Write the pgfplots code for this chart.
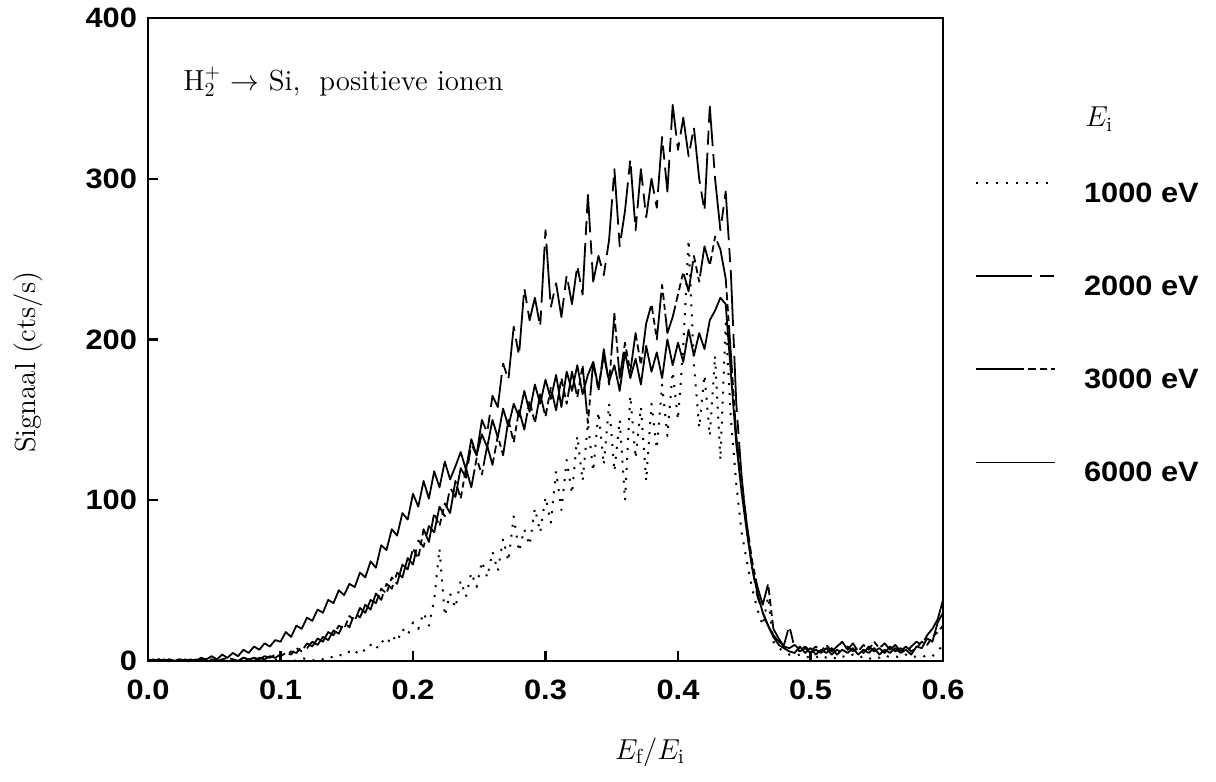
\documentclass[border=0pt]{standalone}
\usepackage{fontspec}
\usepackage{pgfplots}
\pgfplotsset{compat=1.18}
\usepackage{pgfplotstable}
\newfontfamily\tickfont{Liberation Sans}[FakeStretch=1.1]

\pgfplotstableread{
x a b c d
0.000 0 0 0 1
0.004 0 0 1 0
0.008 1 0 0 1
0.012 0 1 0 0
0.016 0 0 1 1
0.020 0 0 0 0
0.024 1 1 0 1
0.028 0 0 1 0
0.032 0 0 0 1
0.036 0 1 0 0
0.040 1 0 1 2
0.044 0 0 0 1
0.048 0 1 1 3
0.052 0 0 0 1
0.056 1 1 1 4
0.060 0 0 2 2
0.064 0 1 1 5
0.068 0 0 0 3
0.072 1 2 2 7
0.076 0 1 1 5
0.080 0 0 2 9
0.084 1 2 1 7
0.088 0 1 3 11
0.092 0 3 2 9
0.096 1 2 4 13
0.100 0 4 3 12
0.104 0 3 5 18
0.108 1 6 4 15
0.112 0 5 8 22
0.116 2 9 6 20
0.120 1 8 11 27
0.124 0 12 9 25
0.128 2 10 14 32
0.132 1 15 12 30
0.136 3 13 18 38
0.140 2 19 16 36
0.144 4 17 22 44
0.148 3 24 20 41
0.152 6 21 28 48
0.156 4 30 25 46
0.160 8 27 33 55
0.164 6 35 30 52
0.168 10 32 38 62
0.172 7 42 36 58
0.176 13 38 45 72
0.180 10 48 42 69
0.184 16 45 52 82
0.188 12 55 48 78
0.192 20 52 60 92
0.196 16 64 57 88
0.200 24 60 70 104
0.204 20 75 64 96
0.208 30 71 82 112
0.212 22 84 74 101
0.216 38 80 92 118
0.220 70 96 84 108
0.224 28 90 98 124
0.228 42 108 92 113
0.232 33 102 112 121
0.236 50 120 101 130
0.240 40 114 120 119
0.244 55 135 108 138
0.248 46 128 126 128
0.252 62 150 116 141
0.256 52 142 134 133
0.260 68 165 122 150
0.264 56 158 140 139
0.268 76 185 128 157
0.272 62 175 150 146
0.276 90 208 136 160
0.280 68 190 156 152
0.284 82 232 144 168
0.288 72 212 162 155
0.292 95 226 148 172
0.296 80 208 166 160
0.300 102 268 152 175
0.304 86 220 170 163
0.308 118 235 156 178
0.312 94 214 176 158
0.316 125 240 160 180
0.320 104 222 180 168
0.324 140 246 164 184
0.328 112 228 184 166
0.332 148 290 148 178
0.336 118 236 186 186
0.340 155 252 168 170
0.344 122 240 194 190
0.348 160 262 172 174
0.352 118 306 216 184
0.356 150 258 176 168
0.360 100 280 198 192
0.364 165 312 180 176
0.368 126 268 204 188
0.372 158 306 184 172
0.376 112 276 210 196
0.380 160 300 222 180
0.384 132 282 200 192
0.388 172 326 234 176
0.392 140 292 204 200
0.396 180 346 214 184
0.400 150 318 228 198
0.404 196 338 242 186
0.408 262 314 230 206
0.412 185 332 252 190
0.416 145 300 236 204
0.420 178 280 258 194
0.424 140 345 246 212
0.428 190 300 264 218
0.432 125 268 256 226
0.436 210 292 238 222
0.440 150 240 190 178
0.444 110 160 140 135
0.448 80 115 112 105
0.452 62 82 85 80
0.456 45 58 62 58
0.460 32 40 46 42
0.464 22 30 35 30
0.468 40 22 48 22
0.472 12 16 20 15
0.476 8 12 14 10
0.480 6 10 9 8
0.484 4 22 8 6
0.488 3 8 10 5
0.492 4 6 7 9
0.496 2 8 9 5
0.500 3 5 6 8
0.504 2 7 9 4
0.508 4 5 6 7
0.512 2 8 10 5
0.516 3 4 6 8
0.520 1 7 9 4
0.524 3 5 12 7
0.528 2 9 7 5
0.532 4 6 11 8
0.536 2 8 6 4
0.540 3 5 10 7
0.544 1 9 7 5
0.548 3 6 12 8
0.552 2 8 8 4
0.556 4 5 11 7
0.560 2 9 7 5
0.564 3 6 10 8
0.568 2 8 6 5
0.572 4 5 9 7
0.576 2 9 6 4
0.580 3 12 8 9
0.584 2 10 12 8
0.588 4 16 10 14
0.592 3 20 15 12
0.596 6 26 18 24
0.600 10 38 22 30
}\datatable

\begin{document}
\begin{tikzpicture}
\begin{axis}[
  name=ax, at={(0,0)}, anchor=south west,
  scale only axis,
  width=397.5pt, height=321.5pt,
  xmin=0, xmax=0.6, ymin=0, ymax=400,
  xtick={0,0.1,0.2,0.3,0.4,0.5,0.6},
  ytick={0,100,200,300,400},
  xtick pos=bottom, ytick pos=left,
  tick align=inside,
  major tick length=5pt,
  every tick/.style={black, line width=1.2pt},
  axis line style={line width=1.4pt},
  /pgf/number format/assume math mode=true,
  xticklabel style={/pgf/number format/fixed, /pgf/number format/fixed zerofill, /pgf/number format/precision=1, yshift=-6pt},
  yticklabel style={xshift=-2pt},
  ticklabel style={font=\tickfont\bfseries\fontsize{14}{16}\selectfont},
  xlabel={$E_\mathrm{f}/E_\mathrm{i}$},
  ylabel={Signaal (cts/s)},
  label style={font=\fontsize{14.5}{17}\selectfont},
  xlabel style={at={(axis description cs:0.6314,-0.1415)}, anchor=center},
  ylabel style={at={(axis description cs:-0.151,0.465)}, anchor=center},
  clip=false,
  legend style={at={(1.0403,0.7449)}, anchor=north west, draw=none, fill=none,
    inner sep=0pt, outer sep=0pt, row sep=35pt, column sep=14pt,
    nodes={inner sep=0pt},
    font=\tickfont\bfseries\fontsize{14}{16}\selectfont},
  legend cell align=left,
  legend image code/.code={\draw[#1] (0pt,5.5pt) -- (39.5pt,5.5pt);},
  every axis plot/.append style={line width=0.9pt, line join=round},
]
\addplot[black, line width=1pt, dash pattern=on 1pt off 4pt] table[x=x,y=a] {\datatable};
\addlegendentry{1000 eV}
\addplot[black, dash pattern=on 28pt off 4pt on 7pt off 4pt] table[x=x,y=b] {\datatable};
\addlegendentry{2000 eV}
\addplot[black, dash pattern=on 24pt off 2pt on 4pt off 2pt on 3.5pt off 2pt on 3pt off 2pt] table[x=x,y=c] {\datatable};
\addlegendentry{3000 eV}
\addplot[black] table[x=x,y=d] {\datatable};
\addlegendentry{6000 eV}
\node[anchor=base west, font=\fontsize{14.5}{17}\selectfont, inner sep=0pt] at (axis cs:0.0264,355) {H$_2^+$ $\rightarrow$ Si,\ \ positieve ionen};
\node[anchor=base west, font=\fontsize{14.5}{17}\selectfont, inner sep=0pt] at (rel axis cs:1.1786,0.8305) {$E_\mathrm{i}$};
\end{axis}
\path (-74pt,-60.5pt) rectangle (534pt,330.5pt);
\end{tikzpicture}
\end{document}
